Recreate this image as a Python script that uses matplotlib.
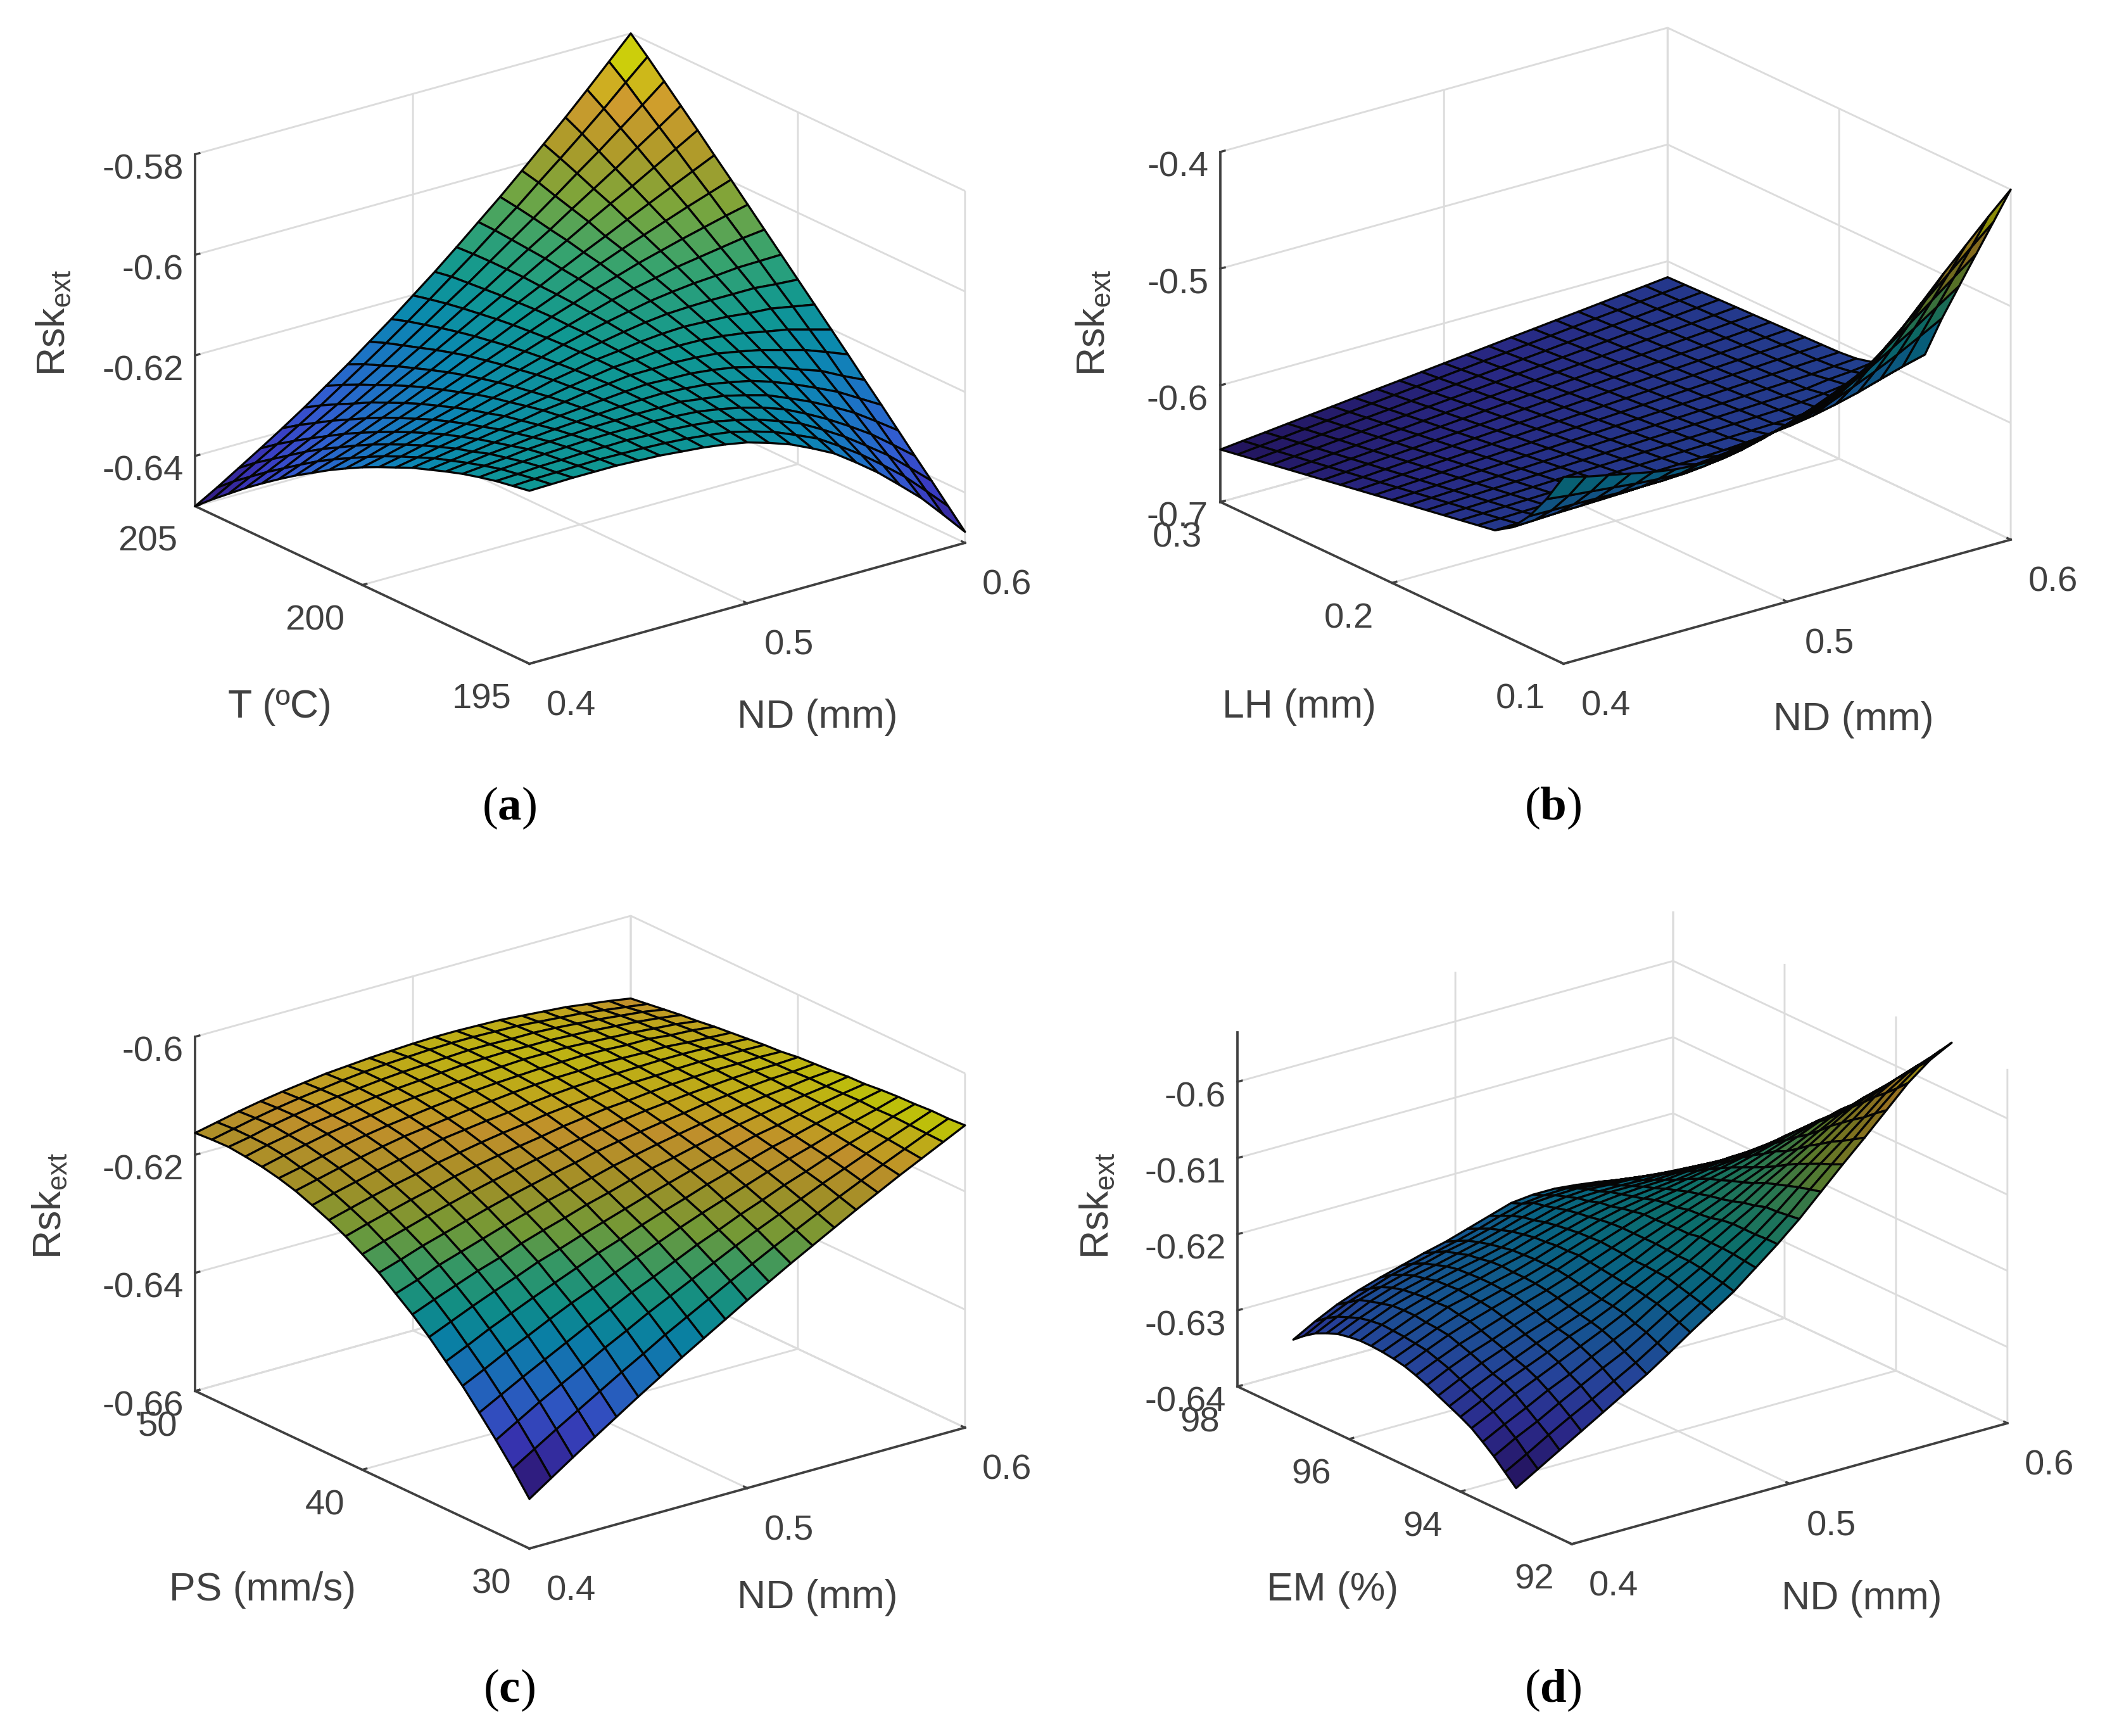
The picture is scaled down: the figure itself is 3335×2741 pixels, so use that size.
import numpy as np
import matplotlib
matplotlib.use("Agg")
import matplotlib.pyplot as plt
from matplotlib.colors import LinearSegmentedColormap
from mpl_toolkits.mplot3d import proj3d

# response surfaces, Rsk values x 1e4 above the bottom of each z axis
nd_grid = [0.40, 0.41, 0.42, 0.43, 0.44, 0.45, 0.46, 0.47, 0.48, 0.49, 0.50,
           0.51, 0.52, 0.53, 0.54, 0.55, 0.56, 0.57, 0.58, 0.59, 0.60]
t_grid = [195, 195.5, 196, 196.5, 197, 197.5, 198, 198.5, 199, 199.5, 200,
          200.5, 201, 201.5, 202, 202.5, 203, 203.5, 204, 204.5, 205]
lh_grid = [0.10, 0.11, 0.12, 0.13, 0.14, 0.15, 0.16, 0.17, 0.18, 0.19, 0.20,
           0.21, 0.22, 0.23, 0.24, 0.25, 0.26, 0.27, 0.28, 0.29, 0.30]
ps_grid = [30, 31, 32, 33, 34, 35, 36, 37, 38, 39, 40,
           41, 42, 43, 44, 45, 46, 47, 48, 49, 50]
em_grid = [93.0, 93.2, 93.4, 93.6, 93.8, 94.0, 94.2, 94.4, 94.6, 94.8, 95.0,
           95.2, 95.4, 95.6, 95.8, 96.0, 96.2, 96.4, 96.6, 96.8, 97.0]

rsk_a = [
    [344, 345, 346, 346, 346, 344, 342, 338, 334, 328, 320, 307, 292, 272, 250, 220, 188, 151, 113, 68, 22],
    [338, 340, 341, 342, 343, 342, 341, 339, 336, 331, 325, 314, 301, 283, 264, 237, 208, 175, 140, 99, 57],
    [332, 334, 337, 338, 340, 340, 341, 339, 338, 335, 330, 321, 310, 295, 278, 254, 228, 198, 167, 130, 92],
    [324, 328, 331, 334, 336, 338, 339, 339, 339, 337, 334, 327, 318, 306, 291, 270, 247, 221, 193, 160, 126],
    [315, 319, 323, 328, 331, 333, 336, 337, 338, 338, 338, 332, 326, 315, 303, 285, 266, 244, 220, 191, 161],
    [304, 309, 315, 319, 324, 328, 331, 334, 337, 339, 340, 337, 333, 325, 316, 302, 285, 266, 246, 221, 196],
    [292, 298, 304, 310, 316, 321, 327, 331, 335, 339, 342, 340, 339, 334, 327, 316, 303, 287, 272, 250, 230],
    [280, 287, 294, 301, 308, 314, 322, 327, 334, 339, 344, 344, 345, 343, 339, 331, 322, 310, 298, 282, 265],
    [265, 273, 282, 290, 298, 307, 315, 322, 330, 337, 344, 347, 351, 351, 350, 346, 340, 331, 323, 311, 299],
    [250, 259, 269, 279, 288, 297, 307, 316, 327, 335, 344, 349, 355, 359, 361, 359, 357, 352, 349, 341, 333],
    [234, 244, 255, 266, 277, 288, 300, 310, 322, 332, 343, 351, 359, 366, 371, 373, 374, 374, 374, 370, 367],
    [216, 227, 240, 252, 265, 277, 291, 303, 316, 329, 342, 353, 363, 372, 381, 387, 392, 395, 399, 400, 401],
    [197, 209, 224, 237, 251, 265, 280, 295, 310, 325, 340, 353, 366, 379, 390, 399, 409, 416, 423, 430, 435],
    [176, 191, 206, 221, 237, 253, 269, 286, 303, 320, 337, 354, 369, 385, 399, 413, 425, 437, 448, 459, 469],
    [155, 171, 187, 204, 222, 239, 258, 276, 296, 314, 334, 353, 371, 390, 408, 425, 441, 457, 473, 488, 503],
    [132, 149, 168, 186, 205, 224, 245, 265, 287, 308, 330, 351, 372, 394, 415, 435, 456, 476, 496, 516, 536],
    [108, 126, 147, 166, 187, 209, 231, 253, 277, 301, 325, 349, 374, 399, 423, 448, 472, 495, 520, 545, 570],
    [83, 103, 124, 146, 169, 191, 216, 241, 266, 293, 320, 346, 374, 402, 429, 458, 486, 514, 544, 573, 603],
    [56, 78, 101, 125, 149, 174, 201, 227, 255, 284, 314, 343, 374, 405, 436, 468, 501, 533, 567, 601, 636],
    [29, 53, 78, 103, 129, 156, 185, 214, 244, 275, 307, 340, 373, 408, 442, 479, 515, 552, 590, 630, 669],
    [0, 25, 52, 79, 107, 136, 167, 198, 231, 264, 299, 334, 371, 409, 447, 487, 528, 569, 612, 656, 700],
]

rsk_b = [
    [1600, 1550, 1510, 1470, 1430, 1400, 1385, 1385, 1410, 1460, 1520, 1590, 1670, 1760, 1870, 2040, 2240, 2440, 2630, 2820, 3000],
    [1341, 1319, 1301, 1282, 1262, 1247, 1242, 1248, 1273, 1314, 1365, 1425, 1493, 1569, 1664, 1808, 1978, 2153, 2320, 2489, 2655],
    [1126, 1123, 1122, 1118, 1113, 1111, 1114, 1123, 1145, 1180, 1221, 1268, 1324, 1389, 1468, 1584, 1724, 1869, 2015, 2164, 2312],
    [961, 969, 977, 982, 988, 994, 1002, 1013, 1031, 1057, 1088, 1126, 1168, 1217, 1279, 1368, 1477, 1594, 1712, 1840, 1967],
    [866, 872, 879, 887, 894, 903, 912, 923, 936, 953, 973, 997, 1027, 1061, 1104, 1165, 1242, 1325, 1416, 1517, 1621],
    [840, 845, 850, 855, 860, 865, 869, 874, 879, 884, 889, 898, 911, 929, 951, 983, 1025, 1074, 1133, 1190, 1240],
    [814, 820, 826, 832, 838, 844, 850, 856, 862, 868, 874, 879, 885, 891, 897, 903, 925, 945, 985, 1040, 1130],
    [788, 795, 802, 809, 816, 823, 830, 837, 844, 851, 858, 865, 872, 879, 886, 893, 905, 925, 950, 985, 1040],
    [762, 770, 778, 786, 794, 802, 810, 818, 826, 834, 842, 851, 859, 867, 875, 883, 891, 899, 925, 940, 965],
    [736, 745, 754, 763, 772, 782, 791, 800, 809, 818, 827, 836, 845, 854, 863, 873, 882, 891, 900, 915, 928],
    [710, 720, 730, 740, 751, 761, 771, 781, 791, 801, 812, 822, 832, 842, 852, 862, 872, 883, 893, 903, 913],
    [684, 695, 706, 718, 729, 740, 751, 762, 774, 785, 796, 807, 818, 830, 841, 852, 863, 874, 886, 897, 908],
    [658, 670, 683, 695, 707, 719, 732, 744, 756, 768, 781, 793, 805, 817, 830, 842, 854, 866, 879, 891, 903],
    [632, 645, 659, 672, 685, 699, 712, 725, 738, 752, 765, 778, 792, 805, 818, 832, 845, 858, 871, 885, 898],
    [606, 620, 635, 649, 663, 678, 692, 706, 721, 735, 750, 764, 778, 793, 807, 821, 836, 850, 864, 879, 893],
    [580, 595, 611, 626, 642, 657, 672, 688, 703, 719, 734, 749, 765, 780, 796, 811, 826, 842, 857, 873, 888],
    [554, 570, 587, 603, 620, 636, 653, 669, 686, 702, 719, 735, 751, 768, 784, 801, 817, 834, 850, 867, 883],
    [528, 546, 563, 581, 598, 616, 633, 651, 668, 686, 703, 721, 738, 756, 773, 791, 808, 826, 843, 861, 878],
    [502, 521, 539, 558, 576, 595, 613, 632, 650, 669, 688, 706, 725, 743, 762, 780, 799, 817, 836, 854, 873],
    [476, 496, 515, 535, 554, 574, 594, 613, 633, 652, 672, 692, 711, 731, 750, 770, 790, 809, 829, 848, 868],
    [450, 471, 491, 512, 533, 553, 574, 595, 615, 636, 657, 677, 698, 719, 739, 760, 780, 801, 822, 842, 863],
]

rsk_c = [
    [84, 109, 134, 158, 182, 206, 229, 252, 274, 296, 318, 339, 360, 380, 400, 420, 439, 458, 476, 494, 512],
    [122, 145, 168, 190, 212, 234, 255, 277, 297, 317, 337, 356, 375, 393, 411, 429, 446, 463, 479, 495, 510],
    [157, 179, 201, 221, 241, 262, 281, 301, 319, 337, 355, 373, 390, 406, 422, 438, 453, 468, 482, 496, 510],
    [190, 210, 230, 249, 268, 287, 304, 322, 338, 355, 372, 387, 403, 417, 432, 445, 459, 472, 484, 497, 508],
    [222, 240, 259, 276, 294, 311, 326, 342, 358, 373, 388, 402, 415, 428, 441, 453, 464, 476, 486, 496, 507],
    [250, 267, 285, 301, 317, 332, 347, 362, 375, 389, 402, 414, 427, 438, 449, 460, 469, 479, 488, 497, 505],
    [278, 294, 310, 325, 339, 354, 366, 379, 391, 403, 415, 426, 437, 447, 456, 466, 473, 481, 489, 496, 502],
    [303, 318, 332, 346, 358, 372, 384, 395, 407, 417, 428, 438, 446, 455, 463, 471, 478, 484, 490, 495, 501],
    [325, 338, 353, 365, 377, 389, 400, 411, 420, 429, 439, 447, 455, 462, 469, 475, 481, 486, 490, 495, 498],
    [347, 359, 372, 383, 394, 405, 415, 424, 433, 441, 450, 457, 463, 469, 474, 480, 484, 488, 491, 493, 496],
    [365, 377, 388, 399, 409, 419, 428, 436, 444, 451, 458, 464, 470, 475, 479, 483, 486, 489, 491, 492, 494],
    [382, 393, 403, 413, 422, 432, 440, 447, 453, 459, 466, 471, 476, 479, 483, 486, 488, 490, 490, 491, 490],
    [396, 406, 416, 425, 433, 442, 449, 456, 462, 467, 473, 477, 480, 484, 486, 487, 489, 490, 489, 489, 488],
    [408, 418, 427, 436, 444, 451, 459, 464, 469, 473, 478, 482, 485, 487, 488, 489, 490, 490, 489, 487, 485],
    [419, 428, 437, 445, 453, 460, 465, 470, 475, 479, 483, 486, 488, 489, 491, 490, 489, 489, 486, 484, 482],
    [427, 435, 444, 452, 459, 465, 470, 475, 479, 483, 486, 488, 490, 491, 492, 491, 489, 489, 485, 483, 479],
    [433, 442, 450, 458, 464, 469, 475, 479, 482, 485, 488, 490, 492, 492, 492, 490, 488, 486, 483, 480, 475],
    [437, 446, 453, 461, 466, 472, 477, 481, 484, 487, 490, 491, 492, 491, 491, 489, 487, 484, 481, 477, 472],
    [440, 447, 456, 463, 469, 474, 478, 482, 485, 487, 489, 491, 491, 490, 490, 488, 485, 482, 478, 474, 468],
    [439, 447, 455, 462, 468, 473, 478, 482, 485, 487, 489, 490, 490, 489, 488, 485, 482, 479, 474, 469, 464],
    [437, 445, 453, 460, 466, 471, 476, 479, 482, 484, 486, 487, 487, 486, 485, 482, 479, 476, 471, 466, 460],
]

rsk_d = [
    [39, 56, 73, 90, 107, 124, 141, 160, 180, 199, 218, 241, 264, 289, 317, 345, 372, 400, 428, 450, 465],
    [53, 69, 86, 102, 117, 133, 149, 167, 186, 204, 222, 243, 264, 287, 313, 338, 363, 389, 414, 435, 448],
    [67, 83, 97, 113, 128, 143, 157, 174, 192, 208, 225, 245, 263, 285, 309, 332, 354, 377, 401, 419, 431],
    [79, 94, 108, 123, 136, 151, 165, 179, 197, 212, 228, 246, 263, 284, 304, 325, 346, 367, 389, 405, 415],
    [90, 104, 119, 132, 145, 158, 171, 185, 200, 216, 230, 246, 263, 279, 299, 318, 336, 356, 375, 389, 398],
    [98, 112, 127, 139, 151, 164, 175, 188, 203, 217, 230, 247, 261, 276, 294, 310, 327, 345, 362, 374, 382],
    [105, 119, 132, 144, 156, 167, 178, 190, 204, 218, 231, 244, 257, 271, 287, 301, 316, 332, 347, 359, 365],
    [112, 126, 139, 150, 161, 171, 182, 193, 206, 218, 232, 244, 255, 267, 281, 293, 306, 320, 334, 343, 349],
    [119, 133, 145, 155, 166, 176, 186, 196, 208, 220, 232, 243, 254, 264, 276, 286, 299, 310, 322, 330, 334],
    [125, 138, 150, 160, 170, 180, 189, 199, 210, 221, 232, 242, 250, 260, 270, 279, 289, 299, 308, 315, 318],
    [130, 143, 155, 165, 174, 183, 191, 201, 212, 222, 232, 242, 249, 256, 265, 272, 280, 288, 296, 302, 303],
    [133, 145, 157, 167, 176, 184, 192, 201, 211, 221, 231, 239, 246, 251, 258, 264, 270, 276, 283, 288, 288],
    [135, 147, 158, 170, 177, 185, 192, 201, 211, 220, 229, 236, 241, 246, 251, 256, 259, 264, 269, 272, 272],
    [136, 148, 160, 169, 178, 185, 193, 200, 209, 218, 226, 232, 237, 240, 243, 247, 250, 253, 256, 258, 256],
    [136, 149, 160, 169, 177, 184, 192, 199, 208, 216, 224, 230, 233, 235, 236, 239, 240, 242, 243, 244, 242],
    [134, 147, 159, 167, 176, 183, 189, 196, 205, 213, 221, 225, 229, 229, 229, 230, 230, 230, 231, 231, 228],
    [131, 144, 155, 165, 172, 180, 187, 193, 202, 209, 217, 222, 223, 223, 222, 222, 221, 220, 219, 218, 215],
    [125, 138, 151, 161, 169, 175, 182, 189, 197, 206, 213, 217, 219, 217, 216, 214, 211, 210, 208, 206, 203],
    [118, 132, 146, 155, 163, 170, 178, 184, 192, 201, 210, 212, 213, 210, 208, 205, 202, 200, 197, 194, 190],
    [108, 123, 136, 146, 156, 163, 170, 177, 185, 194, 202, 205, 206, 203, 200, 196, 192, 189, 185, 182, 178],
    [96, 112, 126, 137, 146, 154, 162, 169, 178, 187, 196, 199, 199, 196, 192, 187, 183, 179, 174, 171, 167],
]

y_grids = [t_grid, lh_grid, ps_grid, em_grid]
surfaces = [rsk_a, rsk_b, rsk_c, rsk_d]
z_floors = [-0.65, -0.70, -0.66, -0.64]
z_tops = [-0.58, -0.40, -0.60, -0.5935]
y_limits = [(195, 205), (0.1, 0.3), (30, 50), (92, 98)]
y_ticks = [[195, 200, 205], [0.1, 0.2, 0.3], [30, 40, 50], [92, 94, 96, 98]]
z_ticks = [[-0.64, -0.62, -0.60, -0.58], [-0.7, -0.6, -0.5, -0.4],
           [-0.66, -0.64, -0.62, -0.60], [-0.64, -0.63, -0.62, -0.61, -0.60]]
z_tick_labels = [["-0.64", "-0.62", "-0.6", "-0.58"], ["-0.7", "-0.6", "-0.5", "-0.4"],
                 ["-0.66", "-0.64", "-0.62", "-0.6"], ["-0.64", "-0.63", "-0.62", "-0.61", "-0.6"]]
y_names = ["T (ºC)", "LH (mm)", "PS (mm/s)", "EM (%)"]
captions = ["a", "b", "c", "d"]

# layout in pixels: nearest floor corner, box edge lengths, title and caption centres
corner_px = [(836, 1048), (2469, 1048), (836, 2445), (2482, 2438)]
box_px = [(867, 867, 596), (890, 890, 593), (867, 867, 600), (867, 867, 600)]
caption_px = [(804, 1276), (2452, 1276), (804, 2669), (2452, 2669)]
xtitle_px = [(1291, 1132), (2927, 1136), (1291, 2522), (2940, 2524)]
ytitle_px = [(442, 1117), (2052, 1117), (415, 2510), (2104, 2510)]
ztitle_px = [(85, 510), (1727, 510), (79, 1904), (1733, 1904)]
# how much the dense mesh dims the faces in each panel
face_dim = [0.82, 0.56, 0.76, 0.60]

FIG_W, FIG_H = 3335, 2741
DPI = 300
AX_SIZE = 1560
TEXT_GREY = "#404040"

parula_rgb = [
    (0.2422, 0.1504, 0.6603), (0.2803, 0.2782, 0.9221), (0.2440, 0.4358, 0.9988),
    (0.1386, 0.5494, 0.9434), (0.0500, 0.6500, 0.8500), (0.0750, 0.7250, 0.7000),
    (0.2600, 0.7800, 0.5300), (0.5900, 0.7900, 0.2800), (0.8300, 0.7400, 0.2000),
    (0.9900, 0.7400, 0.2200), (0.9763, 0.9831, 0.0538)]

plt.rcParams["font.family"] = "Liberation Sans"
plt.rcParams["mathtext.fontset"] = "custom"
plt.rcParams["mathtext.rm"] = "Liberation Sans"
plt.rcParams["mathtext.bf"] = "Liberation Serif:bold"
plt.rcParams["grid.color"] = "#dcdcdc"
plt.rcParams["grid.linewidth"] = 0.7
plt.rcParams["axes.edgecolor"] = TEXT_GREY
plt.rcParams["axes.linewidth"] = 0.9
plt.rcParams["xtick.color"] = TEXT_GREY
plt.rcParams["ytick.color"] = TEXT_GREY


def to_px(ax, x, y, z):
    px, py, _ = proj3d.proj_transform(x, y, z, ax.get_proj())
    return ax.transData.transform((px, py))


def fit_box(ax, corner, box, xl, yl, zl):
    # scale the box to its pixel size, then slide the axes onto the corner
    ax.set_box_aspect(box, zoom=1)
    near = to_px(ax, xl[0], yl[0], zl[0])
    far = to_px(ax, xl[1], yl[0], zl[0])
    wanted = box[0] * np.cos(np.radians(37.5))
    ax.set_box_aspect(box, zoom=wanted / abs(far[0] - near[0]))
    near = to_px(ax, xl[0], yl[0], zl[0])
    pos = ax.get_position()
    dx = (corner[0] - near[0]) / FIG_W
    dy = ((FIG_H - corner[1]) - near[1]) / FIG_H
    ax.set_position([pos.x0 + dx, pos.y0 + dy, pos.width, pos.height])


def fig_text(xy, label, **kw):
    fig.text(xy[0] / FIG_W, 1 - xy[1] / FIG_H, label, ha="center", va="center", **kw)


fig = plt.figure(figsize=(FIG_W / DPI, FIG_H / DPI), dpi=DPI)

for i in range(4):
    ax = fig.add_axes([0.2, 0.2, AX_SIZE / FIG_W, AX_SIZE / FIG_H], projection="3d", proj_type="ortho")
    ax.view_init(elev=21.2, azim=-127.5)
    ax.patch.set_alpha(0)

    dimmed = [tuple(c * face_dim[i] for c in rgb) for rgb in parula_rgb]
    cmap = LinearSegmentedColormap.from_list("parula_dim", dimmed)
    X, Y = np.meshgrid(nd_grid, y_grids[i])
    Z = z_floors[i] + np.array(surfaces[i]) / 1e4
    ax.plot_surface(X, Y, Z, cmap=cmap, rstride=1, cstride=1, edgecolor="#050505",
                    linewidth=0.8, shade=False, antialiased=True)

    xl = (0.4, 0.6)
    ax.set_xlim(*xl)
    ax.set_ylim(*y_limits[i])
    ax.set_zlim(z_floors[i], z_tops[i])
    ax.set_xticks([0.4, 0.5, 0.6], labels=["0.4", "0.5", "0.6"])
    ax.set_yticks(y_ticks[i], labels=[str(v) for v in y_ticks[i]])
    ax.set_zticks(z_ticks[i], labels=z_tick_labels[i])

    for axis in (ax.xaxis, ax.yaxis, ax.zaxis):
        axis.pane.fill = False
        axis.pane.set_edgecolor("none")
        axis.line.set_color(TEXT_GREY)
        axis.line.set_linewidth(0.9)
        axis._axinfo["tick"]["inward_factor"] = 0.0
        axis._axinfo["tick"]["outward_factor"] = 0.12
    ax.tick_params(axis="both", labelsize=13.5, labelcolor=TEXT_GREY, pad=1)
    ax.tick_params(axis="x", pad=2)
    ax.tick_params(axis="y", pad=0)
    ax.tick_params(axis="z", pad=-5)
    ax.zaxis.set_ticks_position("upper")

    for tick in ax.xaxis.get_major_ticks():
        tick.label1.set_ha("left")
    for tick in ax.yaxis.get_major_ticks():
        tick.label1.set_ha("right")
    for tick in ax.zaxis.get_major_ticks():
        tick.label1.set_ha("right")

    fit_box(ax, corner_px[i], box_px[i], xl, y_limits[i], (z_floors[i], z_tops[i]))

    fig_text(xtitle_px[i], "ND (mm)", fontsize=15, color=TEXT_GREY)
    fig_text(ytitle_px[i], y_names[i], fontsize=15, color=TEXT_GREY)
    fig_text(ztitle_px[i], r"Rsk$_{\mathregular{ext}}$", fontsize=15, color=TEXT_GREY, rotation=90)
    fig_text(caption_px[i], r"($\mathbf{%s}$)" % captions[i], fontsize=18,
             family="Liberation Serif", color="black")

fig.savefig("out.png", dpi=DPI)
